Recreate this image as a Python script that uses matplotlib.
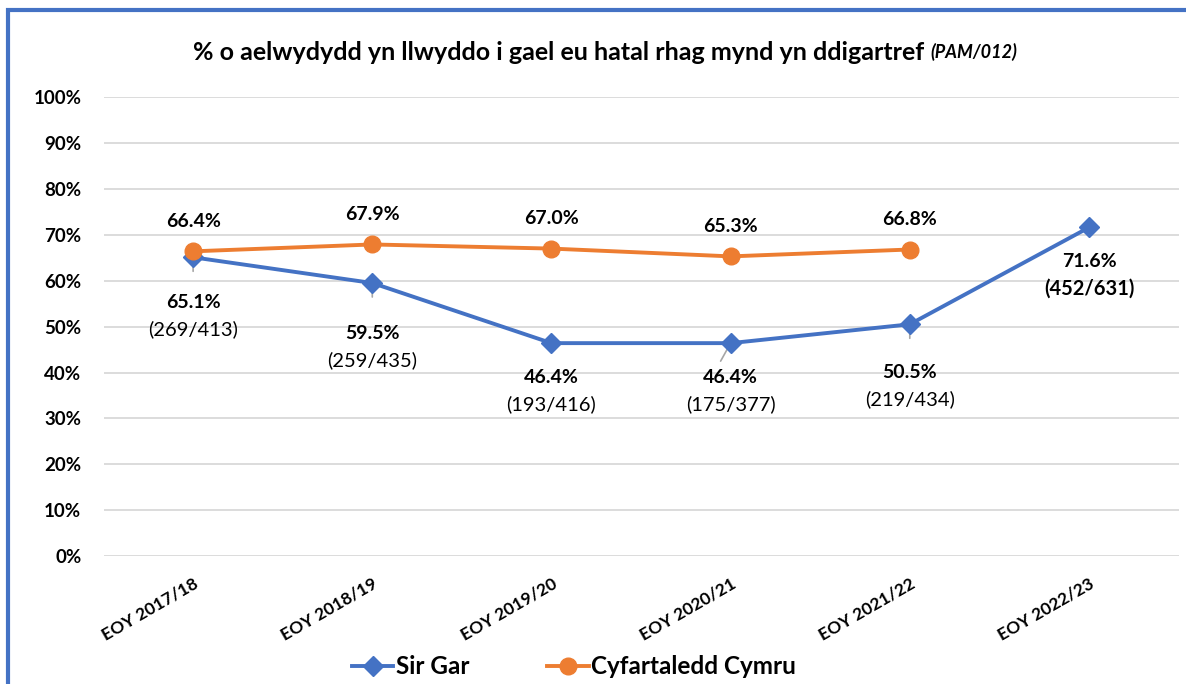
import matplotlib
matplotlib.use('Agg')
import matplotlib.pyplot as plt
from matplotlib.patches import Rectangle
from matplotlib.ticker import PercentFormatter

plt.rcParams['font.family'] = ['Lato', 'DejaVu Sans']

years = ['EOY 2017/18', 'EOY 2018/19', 'EOY 2019/20', 'EOY 2020/21', 'EOY 2021/22', 'EOY 2022/23']
sir_gar = [0.651, 0.595, 0.464, 0.464, 0.505, 0.716]
sir_gar_frac = ['(269/413)', '(259/435)', '(193/416)', '(175/377)', '(219/434)', '(452/631)']
cymru = [0.664, 0.679, 0.670, 0.653, 0.668]

blue = '#4472C4'
orange = '#ED7D31'

# label offsets in pixels below the blue points (style only)
pct_off = [-45, -50, -34, -34, -48, -34]
leaders = [(0, -14), (0, -14), None, (-10, -18), (0, -14), None]

fig = plt.figure(figsize=(11.86, 6.84), dpi=100)
ax = fig.add_axes([0.0873, 0.187, 0.9064, 0.671])

x = list(range(len(years)))
ax.plot(x, sir_gar, color=blue, lw=2.8, marker='D', ms=10.5, label='Sir Gar', zorder=3)
ax.plot(x[:len(cymru)], cymru, color=orange, lw=2.8, marker='o', ms=12, label='Cyfartaledd Cymru', zorder=4)

ax.set_xlim(-0.5, len(years) - 0.5)
ax.set_ylim(0, 1)
ax.set_yticks([i / 10 for i in range(11)])
ax.yaxis.set_major_formatter(PercentFormatter(1.0, decimals=0))
ax.grid(axis='y', color='#d9d9d9', lw=1.3)
ax.set_axisbelow(True)
for s in ax.spines.values():
    s.set_visible(False)
ax.tick_params(length=0, pad=14)
ax.tick_params(axis='y', pad=16)
ax.set_xticks(x)
ax.set_xticklabels(years, rotation=30, ha='right', rotation_mode='anchor',
                   fontsize=12.5, fontweight='bold')
for t in ax.get_yticklabels():
    t.set_fontsize(13.5)
    t.set_fontweight('bold')

for i, v in enumerate(cymru):
    ax.annotate(f'{v * 100:.1f}%', (i, v), xytext=(0, 30), textcoords='offset pixels',
                ha='center', va='center', fontsize=14, fontweight='bold')

for i, v in enumerate(sir_gar):
    last = i == len(sir_gar) - 1
    ax.annotate(f'{v * 100:.1f}%', (i, v), xytext=(0, pct_off[i]), textcoords='offset pixels',
                ha='center', va='center', fontsize=14, fontweight='bold')
    ax.annotate(sir_gar_frac[i], (i, v), xytext=(0, pct_off[i] - 27), textcoords='offset pixels',
                ha='center', va='center', fontsize=14.5,
                fontweight='bold' if last else 'normal')
    if leaders[i] is not None:
        ax.annotate('', (i, v), xytext=leaders[i], textcoords='offset pixels',
                    arrowprops=dict(arrowstyle='-', color='#a6a6a6', lw=1.2,
                                    shrinkA=0, shrinkB=0), zorder=2)

# title with italic code
main = '% o aelwydydd yn llwyddo i gael eu hatal rhag mynd yn ddigartref '
t1 = fig.text(0, 1 - 52 / 684, main, fontsize=18, fontweight='bold', va='center', ha='left')
t2 = fig.text(0, 1 - 52 / 684, '(PAM/012)', fontsize=13, fontweight='bold',
              style='italic', va='center', ha='left')
fig.canvas.draw()
r = fig.canvas.get_renderer()
w1 = t1.get_window_extent(r).width / fig.bbox.width
w2 = t2.get_window_extent(r).width / fig.bbox.width
x0 = 605 / 1186 - (w1 + w2) / 2
t1.set_x(x0)
t2.set_x(x0 + w1)

fig.legend(loc='center', bbox_to_anchor=(574 / 1186, 1 - 667 / 684), ncol=2, frameon=False,
           prop={'size': 17.5, 'weight': 'bold'}, handlelength=1.7, columnspacing=3.2,
           handletextpad=0.1)

fig.patches.append(Rectangle((8 / 1186, -0.05), 1.1, 1 - 10 / 684 + 0.05,
                             transform=fig.transFigure, fill=False,
                             edgecolor=blue, lw=3, zorder=10))

fig.savefig('out.png', dpi=100, facecolor='white')
